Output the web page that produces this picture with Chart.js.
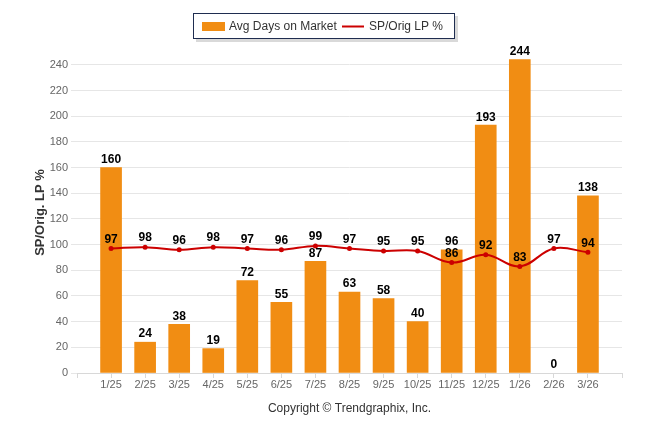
<!DOCTYPE html>
<html>
<head>
<meta charset="utf-8">
<script src="https://cdn.jsdelivr.net/npm/chart.js@4.4.1/dist/chart.umd.min.js"></script>
<style>
  html, body { margin: 0; padding: 0; background: #fff; }
</style>
</head>
<body>
<canvas id="marketChart" width="646" height="434"></canvas>
<script>
// chart data
const months = ['1/25', '2/25', '3/25', '4/25', '5/25', '6/25', '7/25', '8/25', '9/25', '10/25', '11/25', '12/25', '1/26', '2/26', '3/26'];
const avgDaysOnMarket = [160, 24, 38, 19, 72, 55, 87, 63, 58, 40, 96, 193, 244, 0, 138];
const spOrigLpPct = [97, 98, 96, 98, 97, 96, 99, 97, 95, 95, 86, 92, 83, 97, 94];
const yTickStep = 20;
const yMax = 250;

const FONT = '"Liberation Sans", Arial, sans-serif';
const ORANGE = '#F18D13';
const RED = '#CC0000';

// blank slot at each end so the bars sit on the axis ticks like the original
const paddedLabels = [''].concat(months, ['']);
const pad = arr => [null].concat(arr, [null]);

// numbers over bars and points
const valueLabels = {
  id: 'valueLabels',
  afterDatasetsDraw(chart) {
    const ctx = chart.ctx;
    ctx.save();
    ctx.font = 'bold 12px ' + FONT;
    ctx.fillStyle = '#000';
    ctx.textAlign = 'center';
    ctx.textBaseline = 'middle';
    chart.data.datasets.forEach((ds, i) => {
      const meta = chart.getDatasetMeta(i);
      meta.data.forEach((el, j) => {
        const v = ds.data[j];
        if (v === null || v === undefined) return;
        const off = ds.type === 'line' ? 9 : 8;
        ctx.fillText(String(v), el.x, el.y - off);
      });
    });
    ctx.restore();
  }
};

// boxed legend on top and the copyright line under the axis
const extras = {
  id: 'extras',
  afterDraw(chart) {
    const ctx = chart.ctx;
    const area = chart.chartArea;
    ctx.save();
    // legend box with shadow
    ctx.fillStyle = 'rgba(0,0,0,0.15)';
    ctx.fillRect(196, 16, 262, 26);
    ctx.fillStyle = '#fff';
    ctx.fillRect(193, 13, 262, 26);
    ctx.strokeStyle = '#1F2D50';
    ctx.lineWidth = 1;
    ctx.strokeRect(193.5, 13.5, 261, 25);

    ctx.fillStyle = ORANGE;
    ctx.fillRect(202, 22, 23, 9);
    ctx.strokeStyle = RED;
    ctx.lineWidth = 2;
    ctx.beginPath();
    ctx.moveTo(342, 26.5);
    ctx.lineTo(364, 26.5);
    ctx.stroke();

    ctx.fillStyle = '#333';
    ctx.font = '12px ' + FONT;
    ctx.textBaseline = 'middle';
    ctx.textAlign = 'left';
    ctx.fillText('Avg Days on Market', 229, 27);
    ctx.fillText('SP/Orig LP %', 369, 27);

    // copyright
    ctx.textAlign = 'center';
    ctx.fillText('Copyright \u00A9 Trendgraphix, Inc.', (area.left + area.right) / 2, 409);
    ctx.restore();
  }
};

const ctx = document.getElementById('marketChart').getContext('2d');
const marketChart = new Chart(ctx, {
  type: 'bar',
  data: {
    labels: paddedLabels,
    datasets: [
      {
        type: 'bar',
        label: 'Avg Days on Market',
        data: pad(avgDaysOnMarket),
        backgroundColor: c => (c.raw === 0 ? 'rgba(0,0,0,0)' : ORANGE),
        barThickness: 21,
        order: 1
      },
      {
        type: 'line',
        label: 'SP/Orig LP %',
        data: pad(spOrigLpPct),
        borderColor: RED,
        backgroundColor: RED,
        borderWidth: 2,
        tension: 0.4,
        pointRadius: 1.5,
        pointHoverRadius: 1.5,
        fill: false,
        order: 0
      }
    ]
  },
  options: {
    responsive: false,
    animation: false,
    layout: {
      padding: { top: 52, right: 24, bottom: 41, left: 0 }
    },
    plugins: {
      legend: { display: false },
      tooltip: { enabled: false }
    },
    scales: {
      x: {
        offset: false,
        grid: {
          offset: false,
          drawOnChartArea: false,
          tickLength: 5,
          color: '#D8D8D8'
        },
        border: { display: true, color: '#D8D8D8' },
        ticks: {
          autoSkip: false,
          maxRotation: 0,
          padding: 0,
          color: '#666',
          font: { family: FONT, size: 11 }
        },
        afterFit(scale) { scale.height = 20; }
      },
      y: {
        min: 0,
        max: yMax,
        ticks: {
          stepSize: yTickStep,
          padding: 3,
          color: '#666',
          font: { family: FONT, size: 11 }
        },
        afterBuildTicks(scale) {
          scale.ticks = scale.ticks.filter(t => t.value % yTickStep === 0);
        },
        grid: { color: '#E6E6E6', tickLength: 6 },
        border: { display: false },
        title: {
          display: true,
          text: 'SP/Orig. LP %',
          color: '#333',
          font: { family: FONT, size: 13, weight: 'bold' },
          padding: { top: 33, bottom: 0 }
        },
        afterFit(scale) { scale.width = 77; }
      }
    }
  },
  plugins: [valueLabels, extras]
});
</script>
</body>
</html>
